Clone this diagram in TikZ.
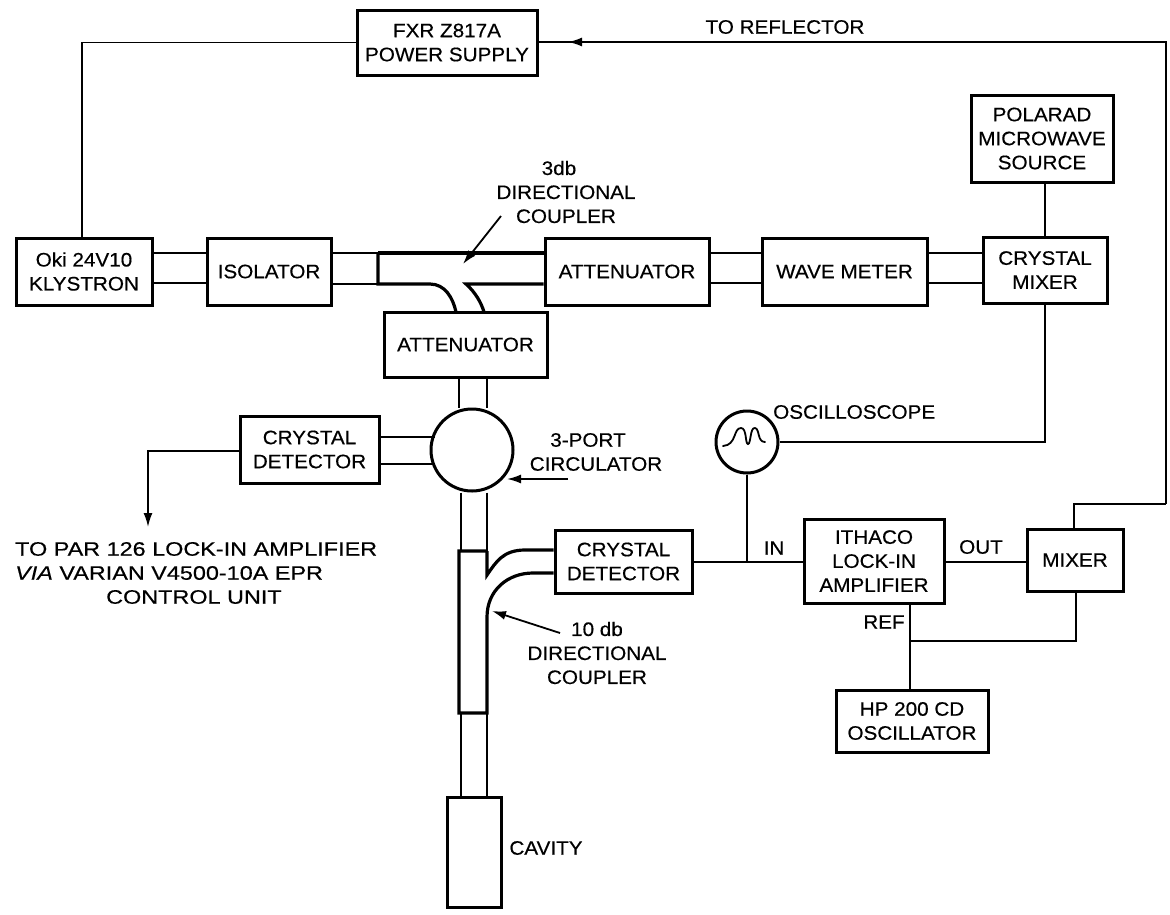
\documentclass[tikz,border=0pt]{standalone}
\usepackage{fontspec}
\setmainfont{Liberation Sans}[FakeStretch=1.06,FakeBold=0.4]
\newfontfamily\parfont{Liberation Sans}[FakeStretch=1.2,FakeBold=0.4]
\usepackage{tikz}
\usetikzlibrary{arrows.meta,calc}

\begin{document}
\begin{tikzpicture}[
    x=1pt,
    y=-1pt,
    every node/.style={font=\fontsize{19.5}{24}\selectfont},
    block/.style={
      rectangle,
      draw,
      line width=3pt,
      fill=white,
      align=center,
      inner sep=0pt
    },
    circ/.style={
      circle,
      draw,
      line width=3pt,
      fill=white,
      inner sep=0pt
    },
    label/.style={align=center, inner sep=0pt},
    line/.style={draw, line width=1.8pt},
    guide/.style={draw, line width=2pt},
    wall/.style={draw, line width=3.2pt},
    pointer/.style={draw, -{Latex[length=14pt,width=9pt]}, line width=1.8pt},
]
    \useasboundingbox (0,0) rectangle (1170,914);

    \node [block, minimum width=180pt, minimum height=65pt] (supply) at (447,42.5) {FXR Z817A\\POWER SUPPLY};
    \node [block, minimum width=136pt, minimum height=67pt] (klystron) at (84,271.5) {Oki 24V10\\KLYSTRON};
    \node [block, minimum width=124pt, minimum height=67pt] (isolator) at (269,271.5) {ISOLATOR};
    \node [block, minimum width=164pt, minimum height=67pt] (attenright) at (627,271.5) {ATTENUATOR};
    \node [block, minimum width=165pt, minimum height=67pt] (wavemeter) at (844.5,271.5) {WAVE METER};
    \node [block, minimum width=124pt, minimum height=66pt] (xmixer) at (1045,270) {CRYSTAL\\MIXER};
    \node [block, minimum width=142pt, minimum height=87pt] (polarad) at (1042,138.5) {POLARAD\\MICROWAVE\\SOURCE};
    \node [block, minimum width=163pt, minimum height=65pt] (attenlow) at (465.5,344.5) {ATTENUATOR};
    \node [circ, minimum size=82pt] (circulator) at (472,450) {};
    \node [block, minimum width=139pt, minimum height=67pt] (detleft) at (309.5,449.5) {CRYSTAL\\DETECTOR};
    \node [block, minimum width=137pt, minimum height=63pt] (detright) at (623.5,561.5) {CRYSTAL\\DETECTOR};
    \node [circ, minimum size=62pt] (scope) at (747,442) {};
    \node [block, minimum width=140pt, minimum height=84pt] (ithaco) at (874,561) {ITHACO\\LOCK-IN\\AMPLIFIER};
    \node [block, minimum width=96pt, minimum height=62pt] (mixer) at (1075,560) {MIXER};
    \node [block, minimum width=152pt, minimum height=62pt] (hposc) at (912,721) {HP 200 CD\\OSCILLATOR};
    \node [block, minimum width=54pt, minimum height=110pt] (cavity) at (474,852) {};

    % labels
    \node [label] (reflectorlabel) at (785,27) {TO REFLECTOR};
    \node [label] (coupleronelabel) at (566,192) {3db\hspace*{14pt}\\DIRECTIONAL\\COUPLER};
    \node [label, anchor=west] (scopelabel) at (773,412) {OSCILLOSCOPE};
    \node [label] (circlabel) at (596,452) {3-PORT\hspace*{16pt}\\CIRCULATOR};
    \node [label, anchor=west, align=left, font=\fontsize{19.5}{24}\parfont] (parlabel) at (15,573) {TO PAR 126 LOCK-IN AMPLIFIER\\\textit{VIA} VARIAN V4500-10A EPR\\\hspace*{91pt}CONTROL UNIT};
    \node [label] (couplertwolabel) at (597,653) {10 db\\DIRECTIONAL\\COUPLER};
    \node [label] (cavitylabel) at (546,848) {CAVITY};
    \node [label] (inlabel) at (774,548) {IN};
    \node [label] (outlabel) at (981,547) {OUT};
    \node [label] (reflabel) at (884,622) {REF};

    % scope trace
    \draw [line width=1.8pt, line cap=round] (723,446) .. controls (737,445) and (733,428) .. (741,428) .. controls (747,428) and (745,444) .. (748,444) .. controls (751,444) and (750,427) .. (755,428) .. controls (760,429) and (757,442) .. (765,442);

    % waveguides
    \coordinate (guideup) at (0,253);
    \coordinate (guidedown) at (0,283);
    \path [guide] (klystron.east |- guideup) -- (isolator.west |- guideup);
    \path [guide] (klystron.east |- guidedown) -- (isolator.west |- guidedown);
    \coordinate (coupleronetop) at (378,253);
    \coordinate (coupleronebot) at (378,284);
    \path [guide] (isolator.east |- guideup) -- (coupleronetop);
    \path [guide] (isolator.east |- coupleronebot) -- (coupleronebot);
    \path [guide] (attenright.east |- guideup) -- (wavemeter.west |- guideup);
    \path [guide] (attenright.east |- guidedown) -- (wavemeter.west |- guidedown);
    \path [guide] (wavemeter.east |- guideup) -- (xmixer.west |- guideup);
    \path [guide] (wavemeter.east |- guidedown) -- (xmixer.west |- guidedown);
    \path [guide] (attenlow.south -| 459,0) -- (circulator.north -| 459,0);
    \path [guide] (attenlow.south -| 487,0) -- (circulator.north -| 487,0);
    \path [guide] (detleft.east |- 0,437) -- ++(54,0);
    \path [guide] (detleft.east |- 0,464) -- ++(54,0);

    % first coupler
    \path [wall] (coupleronetop) -- (coupleronebot) -- (430,284) .. controls (445,284) and (453,298) .. (456,312);
    \path [wall] (coupleronetop) -- (attenright.west |- coupleronetop);
    \path [wall] (attenright.west |- 0,284) -- (466,284) .. controls (475,292) and (481,302) .. (484,312);
    \path [pointer] (501,216) -- (463,264);

    % second coupler
    \coordinate (couplertwotl) at (459,551);
    \coordinate (couplertwotr) at (487,551);
    \coordinate (couplertwobl) at (459,713);
    \coordinate (couplertwobr) at (487,713);
    \path [guide] (circulator.south -| 461,0) -- (couplertwotl -| 461,0);
    \path [guide] (circulator.south -| couplertwotr) -- (couplertwotr);
    \path [wall] (couplertwotr) -- (couplertwotl) -- (couplertwobl) -- (couplertwobr) -- (487,617) .. controls (487,590) and (508,573) .. (533,573) -- (detright.west |- 0,573);
    \path [wall] (couplertwotr) -- (487,575) .. controls (496,562) and (503,550) .. (525,550) -- (detright.west |- 0,550);
    \path [guide] (couplertwobl -| 461,0) -- (cavity.north -| 461,0);
    \path [guide] (couplertwobr) -- (cavity.north -| couplertwobr);
    \path [pointer] (560,633) -- (492,611);

    % signal lines
    \path [line] (supply.west) -| ($(klystron.north)+(-2,0)$);
    \path [line] (polarad.south -| xmixer.north) -- (xmixer.north);
    \path [line] (xmixer.south) |- (scope.east);
    \coordinate (signal) at (0,562);
    \path [line] (detright.east |- signal) -- (ithaco.west |- signal);
    \path [line] (scope.south) -- (scope.south |- signal);
    \path [line] (ithaco.east |- signal) -- (mixer.west |- signal);
    \coordinate (reffeed) at (910,641);
    \path [line] (ithaco.south -| reffeed) -- (hposc.north -| reffeed);
    \path [line] (mixer.south -| 1076,0) |- (reffeed);
    \coordinate (rightup) at (1166,504);
    \coordinate (arrowmid) at (568,42);
    \path [line] (mixer.north -| 1074,0) |- (rightup);
    \path [line] (rightup) |- (supply.east |- arrowmid);
    \path [pointer] (590,42) -- (arrowmid);
    \coordinate (pardrop) at (148,527);
    \path [pointer] (detleft.west |- 0,451) -| (pardrop);
    \path [pointer] (568,479) -- (507,479);
\end{tikzpicture}
\end{document}
